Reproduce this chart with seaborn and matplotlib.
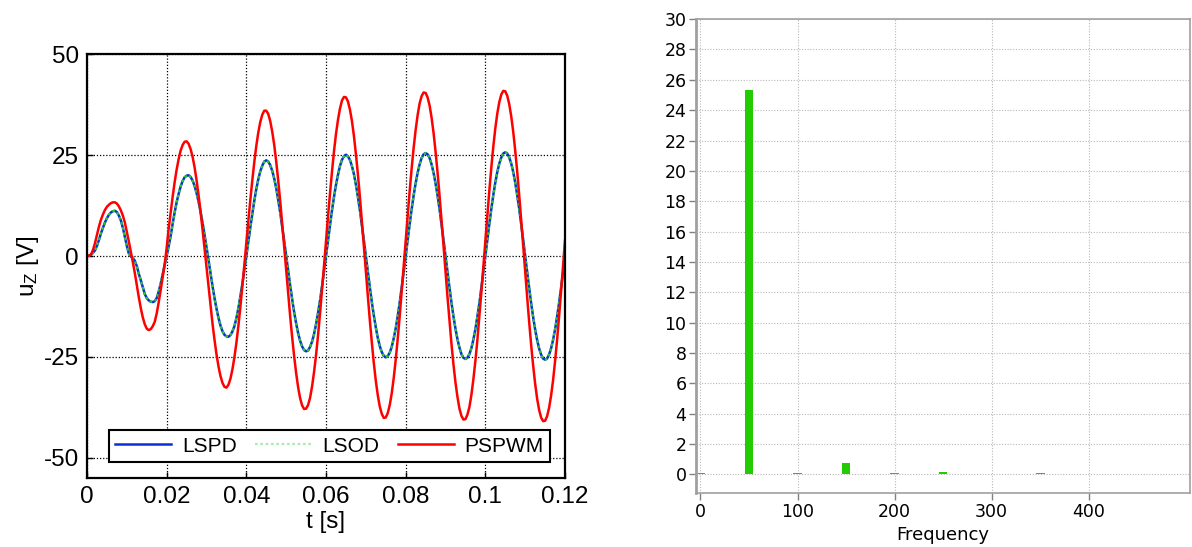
import numpy as np
import pandas as pd
import matplotlib
matplotlib.use("Agg")
import matplotlib.pyplot as plt
import seaborn as sns

# ---------------- data ----------------
# time grid for the left panel: 0 .. 120 ms in 0.5 ms steps
t_ms = np.arange(0, 241) * 0.5
t_s = t_ms / 1000.0

lspd = [0, 0.05, 0.3, 0.8, 1.4, 2.5, 4.0, 5.6, 7.0, 8.3,
        9.4, 10.2, 10.8, 11.1, 11.2, 10.9, 10.0, 8.8, 7.0, 4.8,
        2.5, 0.6, -0.1, -0.4, -1.2, -2.5, -4.4, -6.0, -7.7, -9.4,
        -10.4, -11.0, -11.3, -11.4, -11.2, -10.4, -8.8, -6.8, -4.5, -2.2,
        0, 2.4, 5.0, 8.0, 10.8, 13.3, 15.4, 17.2, 18.6, 19.5,
        19.9, 20.0, 19.6, 18.7, 17.4, 15.6, 13.5, 11.0, 8.3, 5.3,
        2.2, -1.0, -4.3, -7.4, -10.4, -13.0, -15.3, -17.2, -18.6, -19.5,
        -19.9, -20.0, -19.6, -18.7, -17.4, -15.4, -12.9, -10.0, -6.9, -3.5,
        0, 3.6, 7.1, 10.5, 13.7, 16.6, 19.0, 21.0, 22.4, 23.4,
        23.7, 23.4, 22.5, 21.1, 19.2, 16.8, 13.9, 10.8, 7.3, 3.7,
        0, -3.7, -7.3, -10.7, -13.9, -16.7, -19.1, -21.0, -22.4, -23.3,
        -23.6, -23.4, -22.5, -21.2, -19.3, -16.9, -14.1, -11.0, -7.5, -3.8,
        0, 3.9, 7.6, 11.3, 14.6, 17.6, 20.1, 22.3, 23.8, 24.7,
        25.1, 24.7, 23.8, 22.3, 20.3, 17.7, 14.7, 11.4, 7.7, 3.9,
        0, -3.9, -7.7, -11.4, -14.7, -17.7, -20.3, -22.3, -23.8, -24.7,
        -25.1, -24.8, -23.9, -22.5, -20.4, -17.9, -14.9, -11.5, -7.8, -4.0,
        0, 4.0, 7.9, 11.6, 15.0, 18.0, 20.6, 22.7, 24.3, 25.2,
        25.5, 25.2, 24.3, 22.7, 20.6, 18.0, 15.0, 11.6, 7.9, 4.0,
        0, -4.0, -7.9, -11.6, -15.0, -18.0, -20.6, -22.7, -24.3, -25.2,
        -25.5, -25.2, -24.3, -22.8, -20.7, -18.1, -15.0, -11.7, -7.9, -4.0,
        0, 4.0, 7.9, 11.7, 15.1, 18.2, 20.8, 22.9, 24.4, 25.4,
        25.7, 25.4, 24.4, 22.9, 20.8, 18.2, 15.1, 11.7, 7.9, 4.0,
        0, -4.0, -7.9, -11.7, -15.1, -18.2, -20.8, -22.9, -24.4, -25.4,
        -25.7, -25.4, -24.4, -22.9, -20.8, -18.2, -15.1, -11.7, -7.9, -4.0,
        -0.5]

# LSOD lies on top of LSPD in the reference
lsod = list(lspd)

pspwm = [0, 0.1, 0.4, 1.5, 3.2, 5.2, 7.3, 9.0, 10.3, 11.4,
         12.2, 12.7, 13.1, 13.3, 13.3, 13.0, 12.3, 11.3, 10.0, 8.3,
         6.0, 3.6, 1.1, -1.5, -4.2, -7.2, -10.2, -12.9, -15.2, -16.9,
         -18.0, -18.35, -18.1, -17.4, -16.3, -14.2, -11.4, -8.4, -5.2, -2.0,
         2.0, 6.8, 10.8, 14.7, 18.3, 21.4, 24.0, 26.1, 27.5, 28.3,
         28.4, 27.8, 26.5, 24.6, 22.0, 18.8, 15.1, 11.0, 6.6, 1.9,
         -2.9, -7.6, -12.3, -16.7, -20.7, -24.3, -27.3, -29.7, -31.4, -32.4,
         -32.6, -31.9, -30.4, -28.1, -25.1, -21.5, -17.3, -12.6, -7.5, -2.2,
         3.3, 8.7, 13.9, 18.8, 23.3, 27.3, 30.6, 33.2, 35.0, 36.0,
         36.0, 35.2, 33.4, 30.8, 27.5, 23.4, 18.7, 13.6, 8.1, 2.3,
         -3.5, -9.3, -14.9, -20.1, -24.8, -29.0, -32.5, -35.2, -37.0, -37.9,
         -37.8, -36.9, -35.1, -32.3, -28.7, -24.5, -19.6, -14.2, -8.4, -2.4,
         3.7, 9.7, 15.5, 20.9, 25.9, 30.2, 33.7, 36.5, 38.5, 39.4,
         39.3, 38.3, 36.3, 33.5, 29.8, 25.3, 20.3, 14.7, 8.7, 2.5,
         -3.8, -9.9, -15.9, -21.4, -26.5, -30.9, -34.5, -37.3, -39.1, -40.1,
         -40.0, -38.9, -36.9, -34.0, -30.2, -25.7, -20.5, -14.9, -8.8, -2.5,
         3.8, 10.1, 16.1, 21.7, 26.8, 31.2, 34.9, 37.8, 39.6, 40.5,
         40.4, 39.3, 37.3, 34.3, 30.5, 25.9, 20.7, 15.0, 8.9, 2.6,
         -3.8, -10.1, -16.1, -21.8, -26.9, -31.3, -34.9, -37.8, -39.6, -40.5,
         -40.4, -39.3, -37.4, -34.4, -30.5, -26.0, -20.8, -15.0, -8.9, -2.6,
         3.9, 10.2, 16.2, 21.9, 27.1, 31.6, 35.3, 38.1, 40.0, 40.9,
         40.8, 39.7, 37.6, 34.6, 30.8, 26.1, 20.9, 15.1, 8.9, 2.6,
         -3.9, -10.2, -16.3, -22.0, -27.1, -31.6, -35.3, -38.1, -40.0, -40.9,
         -40.8, -39.7, -37.6, -34.6, -30.8, -26.1, -20.9, -15.1, -8.9, -2.6,
         3.9]

series_names = ["LSPD", "LSOD", "PSPWM"]

x_ticks_left = [0, 0.02, 0.04, 0.06, 0.08, 0.10, 0.12]
x_ticklabels_left = ["0", "0.02", "0.04", "0.06", "0.08", "0.1", "0.12"]
y_ticks_left = [-50, -25, 0, 25, 50]

# right panel: harmonic spectrum
freq = [0, 50, 100, 150, 200, 250, 300, 350, 400, 450, 500]
amp = [0.07, 25.3, 0.08, 0.78, 0.06, 0.13, 0.03, 0.08, 0.02, 0.04, 0.04]
x_ticks_right = [0, 100, 200, 300, 400]
y_ticks_right = list(range(0, 31, 2))

# ---------------- figure ----------------
plt.rcParams["mathtext.default"] = "regular"
plt.rcParams["axes.unicode_minus"] = False
fig = plt.figure(figsize=(11.92, 5.47), dpi=100)
fig.patch.set_facecolor("white")

# ---- left panel ----
axL = fig.add_axes([0.073, 0.126, 0.401, 0.775])
df = pd.DataFrame({"t": t_s, "LSPD": lspd, "LSOD": lsod, "PSPWM": pspwm})
sns.lineplot(data=df, x="t", y="LSPD", ax=axL, color="#0a2fd6", lw=1.8, label="LSPD")
sns.lineplot(data=df, x="t", y="LSOD", ax=axL, color="#2ec82e", lw=1.6,
             linestyle=(0, (1.2, 1.2)), label="LSOD")
sns.lineplot(data=df, x="t", y="PSPWM", ax=axL, color="#ff0000", lw=1.8, label="PSPWM")

axL.set_xlim(0, 0.12)
axL.set_ylim(-55, 50)
axL.set_xticks(x_ticks_left)
axL.set_xticklabels(x_ticklabels_left)
axL.set_yticks(y_ticks_left)
lfont = "Liberation Sans"
for lab in axL.get_xticklabels() + axL.get_yticklabels():
    lab.set_fontfamily(lfont)
    lab.set_fontsize(17.5)
axL.tick_params(direction="in", length=4, width=1, colors="black", pad=6)
axL.set_xlabel("t [s]", fontsize=17.5, family=lfont, labelpad=2)
axL.set_ylabel("u$_Z$ [V]", fontsize=17.5, family=lfont, labelpad=2)
axL.grid(True, color="black", linestyle=(0, (1, 1.5)), lw=0.9)
for s in axL.spines.values():
    s.set_color("black")
    s.set_linewidth(1.6)
leg = axL.legend(loc="lower center", bbox_to_anchor=(0.507, 0.038), ncol=3,
                 prop={"family": lfont, "size": 15}, frameon=True, fancybox=False,
                 edgecolor="black", framealpha=1, handlelength=2.7,
                 columnspacing=0.9, handletextpad=0.5, borderpad=0.3,
                 borderaxespad=0)
leg.get_frame().set_linewidth(1.5)
leg.get_lines()[1].set_color("#a8eea8")

# ---- right panel ----
axR = fig.add_axes([0.584, 0.099, 0.414, 0.866])
sns.barplot(x=freq, y=amp, ax=axR, native_scale=True, color="#22cc00",
            saturation=1, width=0.18, edgecolor="none", linewidth=0,
            errorbar=None)
axR.set_xlim(-4.5, 504)
axR.set_ylim(-1.22, 30)
axR.set_xticks(x_ticks_right)
axR.set_yticks(y_ticks_right)
axR.tick_params(direction="out", length=5, width=1, colors="#808080",
                labelcolor="black", labelsize=12.5, pad=2)
for lab in axR.get_xticklabels() + axR.get_yticklabels():
    lab.set_fontfamily("DejaVu Sans")
axR.set_xlabel("Frequency", fontsize=13, family="DejaVu Sans", labelpad=4)
axR.set_ylabel("")
axR.grid(True, color="#b8b8b8", linestyle=(0, (1, 1.5)), lw=0.8)
axR.set_axisbelow(True)
for name, s in axR.spines.items():
    s.set_color("#a0a0a0")
    s.set_linewidth(1.2)
axR.spines["left"].set_linewidth(2.0)

fig.savefig("out.png", dpi=100, facecolor="white")
